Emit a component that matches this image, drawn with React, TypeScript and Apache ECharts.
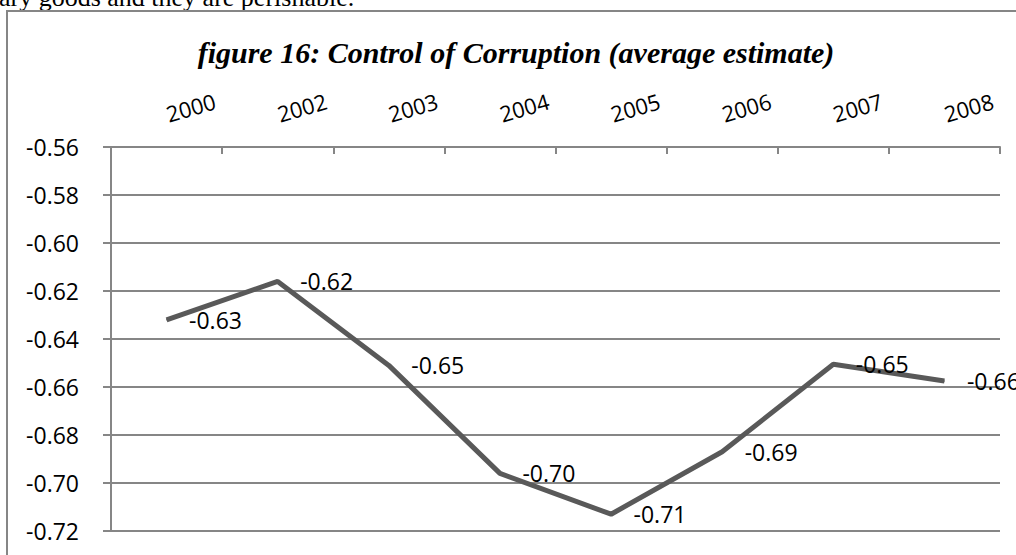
import React, { useEffect, useRef } from "react";
import * as echarts from "echarts";

const years = ["2000", "2002", "2003", "2004", "2005", "2006", "2007", "2008"];
const estimates = [-0.632, -0.616, -0.651, -0.696, -0.713, -0.687, -0.6505, -0.6575];
const yMin = -0.72;
const yMax = -0.56;
const yStep = 0.02;
const titleText = "figure 16: Control of Corruption (average estimate)";
const topText = "ary goods and they are perishable.";

export default function App() {
  const ref = useRef<HTMLDivElement>(null);
  useEffect(() => {
    if (!ref.current) return;
    const chart = echarts.init(ref.current, null, { renderer: "svg" });
    const gray = "#868686";
    chart.setOption({
      animation: false,
      backgroundColor: "#ffffff",
      grid: { left: 111, right: 16, top: 147, bottom: 24, containLabel: false },
      graphic: [
        {
          type: "text",
          x: -1,
          y: 10,
          style: {
            text: topText,
            font: "26px 'Liberation Serif', serif",
            fill: "#000",
            align: "left",
            verticalAlign: "bottom",
          },
        },
        {
          type: "rect",
          shape: { x: 7, y: 11, width: 1100, height: 700 },
          style: { fill: "none", stroke: gray, lineWidth: 2 },
        },
        {
          type: "text",
          x: 516,
          y: 52,
          style: {
            text: titleText,
            font: "italic bold 30px 'Liberation Serif', serif",
            fill: "#000",
            align: "center",
            verticalAlign: "middle",
          },
        },
      ],
      xAxis: {
        type: "category",
        data: years,
        position: "top",
        boundaryGap: true,
        axisLine: { show: true, lineStyle: { color: gray, width: 2 } },
        axisTick: { show: true, inside: true, length: 7, alignWithLabel: false, lineStyle: { color: gray, width: 2 } },
        axisLabel: {
          rotate: -16,
          margin: 33,
          color: "#000",
          fontFamily: "'Open Sans', sans-serif",
          fontSize: 22,
          interval: 0,
        },
        splitLine: { show: false },
      },
      yAxis: {
        type: "value",
        min: yMin,
        max: yMax,
        interval: yStep,
        axisLine: { show: true, lineStyle: { color: gray, width: 2 } },
        axisTick: { show: true, inside: false, length: 8, lineStyle: { color: gray, width: 2 } },
        axisLabel: {
          margin: 32,
          color: "#000",
          fontFamily: "'Open Sans', sans-serif",
          fontSize: 23,
          formatter: (v: number) => v.toFixed(2),
        },
        splitLine: { show: true, lineStyle: { color: gray, width: 2 } },
      },
      series: [
        {
          type: "line",
          data: estimates,
          symbol: "circle",
          symbolSize: 1,
          itemStyle: { color: "#595959" },
          lineStyle: { color: "#595959", width: 5 },
          label: {
            show: true,
            position: "right",
            distance: 22,
            color: "#000",
            fontFamily: "'Open Sans', sans-serif",
            fontSize: 23,
            formatter: (p: any) => (p.value as number).toFixed(2),
          },
        },
      ],
    });
    return () => chart.dispose();
  }, []);
  return (
    <div
      ref={ref}
      style={{ position: "absolute", left: 0, top: 0, width: 1016, height: 555 }}
    />
  );
}
